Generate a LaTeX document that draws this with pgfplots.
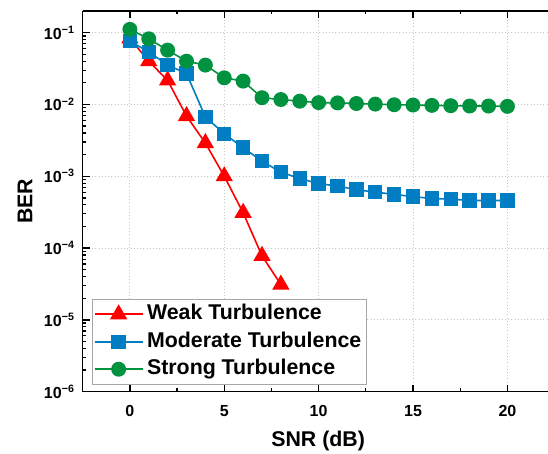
\documentclass[border=0pt]{standalone}
\usepackage{pgfplots}
\pgfplotsset{compat=1.18}
\usepackage{fontspec}
\setmainfont{Liberation Sans}
\definecolor{cred}{RGB}{255,0,0}
\definecolor{cblue}{RGB}{0,125,195}
\definecolor{cgreen}{RGB}{0,146,62}

\begin{document}
\begin{tikzpicture}
\begin{axis}[
  scale only axis,
  width=349pt, height=285.5pt,
  ymode=log,
  xmin=-2.5, xmax=22.15,
  ymin=1e-6, ymax=0.2,
  axis x line=box, axis y line=left,
  axis line style={-, line width=1.1pt},
  xtick pos=both, ytick pos=left,
  tick align=inside,
  major tick length=5.25pt, minor tick length=2.6pt,
  every tick/.style={black, line width=1pt},
  xtick={0,5,10,15,20},
  minor x tick num=1,
  ytick={1e-6,1e-5,1e-4,1e-3,1e-2,1e-1},
  minor ytick={2e-6,3e-6,4e-6,5e-6,6e-6,7e-6,8e-6,9e-6,
               2e-5,3e-5,4e-5,5e-5,6e-5,7e-5,8e-5,9e-5,
               2e-4,3e-4,4e-4,5e-4,6e-4,7e-4,8e-4,9e-4,
               2e-3,3e-3,4e-3,5e-3,6e-3,7e-3,8e-3,9e-3,
               2e-2,3e-2,4e-2,5e-2,6e-2,7e-2,8e-2,9e-2,0.2},
  yticklabels={10\textsuperscript{−6},10\textsuperscript{−5},10\textsuperscript{−4},10\textsuperscript{−3},10\textsuperscript{−2},10\textsuperscript{−1}},
  /pgf/number format/assume math mode=true,
  tick label style={font=\fontsize{12}{14}\selectfont\bfseries},
  yticklabel style={xshift=-2.5pt},
  xticklabel style={yshift=-6.5pt},
  grid=major,
  major grid style={gray!45, dotted, line width=0.7pt},
  xlabel={SNR (dB)},
  ylabel={BER},
  label style={font=\fontsize{16}{19}\selectfont\bfseries},
  xlabel style={at={(axis description cs:0.506,-0.1445)}, anchor=base},
  ylabel style={at={(axis description cs:-0.1083,0.5)}, anchor=base},
  legend style={at={(0.02,0.018)}, anchor=south west, draw=gray!70, line width=0.8pt,
    inner sep=1pt, font=\fontsize{16}{19}\selectfont\bfseries,
    nodes={text height=11.7pt, text depth=3.4pt, inner sep=2.75pt}},
  legend cell align=left,
  legend image code/.code={\draw[mark repeat=2, mark phase=2] plot coordinates {(0pt,0pt) (18pt,0pt) (36pt,0pt)};},
]
\coordinate (sw) at (rel axis cs:0,0);
\coordinate (ne) at (rel axis cs:1,1);
\addplot[cred, line width=1.2pt, mark=triangle*, mark size=6.3pt] coordinates {
  (0,0.083) (1,0.040) (2,0.0216) (3,0.0069) (4,0.0029) (5,0.0010) (6,0.00031) (7,7.8e-5) (8,3.1e-5)
};
\addplot[cblue, line width=1.2pt, mark=square*, mark size=4.8pt] coordinates {
  (0,0.076) (1,0.054) (2,0.0353) (3,0.027) (4,0.0067) (5,0.0039) (6,0.0025) (7,0.00162)
  (8,0.00114) (9,0.00093) (10,0.00079) (11,0.00073) (12,0.00065) (13,0.00060) (14,0.00056)
  (15,0.00052) (16,0.00049) (17,0.00048) (18,0.00046) (19,0.00046) (20,0.00046)
};
\addplot[cgreen, line width=1.2pt, mark=*, mark size=5pt] coordinates {
  (0,0.111) (1,0.082) (2,0.057) (3,0.040) (4,0.0353) (5,0.0235) (6,0.0211) (7,0.0124)
  (8,0.0117) (9,0.0111) (10,0.0106) (11,0.0105) (12,0.0103) (13,0.0101) (14,0.0099)
  (15,0.0098) (16,0.0097) (17,0.0096) (18,0.0095) (19,0.0095) (20,0.0094)
};
\legend{Weak Turbulence, Moderate Turbulence, Strong Turbulence}
\end{axis}
\pgfresetboundingbox
\path ([shift={(-62pt,-46.7pt)}]sw) rectangle ([shift={(0pt,8.25pt)}]ne);
\end{tikzpicture}
\end{document}
